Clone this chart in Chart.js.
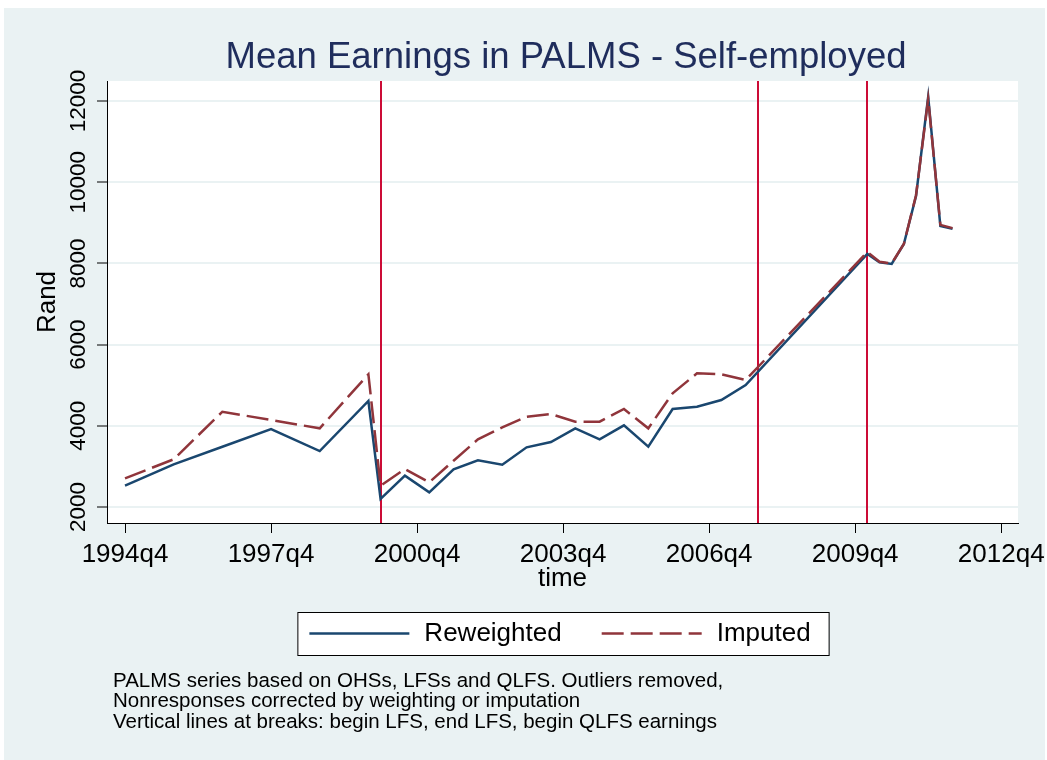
<!DOCTYPE html>
<html>
<head>
<meta charset="utf-8">
<script src="https://cdn.jsdelivr.net/npm/chart.js@4/dist/chart.umd.min.js"></script>
<style>
  body { margin: 0; background: #fff; }
  #wrap { width: 1047px; height: 760px; }
</style>
</head>
<body>
<div id="wrap"><canvas id="palmsChart"></canvas></div>
<script>
// survey quarters (OHS yearly, LFS twice a year, QLFS quarterly)
const quarters = ["1994q4", "1995q4", "1996q4", "1997q4", "1998q4", "1999q4",
  "2000q1", "2000q3", "2001q1", "2001q3", "2002q1", "2002q3", "2003q1", "2003q3",
  "2004q1", "2004q3", "2005q1", "2005q3", "2006q1", "2006q3", "2007q1", "2007q3",
  "2010q1", "2010q2", "2010q3", "2010q4", "2011q1", "2011q2", "2011q3", "2011q4"];
const reweighted = [2525, 3050, 3485, 3921, 3379, 4611,
  2200, 2771, 2362, 2929, 3150, 3042, 3470, 3601,
  3938, 3667, 4012, 3485, 4414, 4470, 4635, 5005,
  8232, 8027, 7985, 8478, 9660, 12100, 8921, 8855];
const imputed = [2707, 3175, 4347, 4143, 3938, 5268,
  2525, 2936, 2608, 3140, 3667, 3963, 4224, 4290,
  4101, 4101, 4414, 3938, 4800, 5293, 5268, 5128,
  8280, 8040, 8000, 8478, 9680, 12050, 8950, 8870];
const breaks = ["2000q1", "2007q4", "2010q1"];
const xTickLabels = ["1994q4", "1997q4", "2000q4", "2003q4", "2006q4", "2009q4", "2012q4"];
const yTicks = [2000, 4000, 6000, 8000, 10000, 12000];
const notes = [
  "PALMS series based on OHSs, LFSs and QLFS. Outliers removed,",
  "Nonresponses corrected by weighting or imputation",
  "Vertical lines at breaks: begin LFS, end LFS, begin QLFS earnings"
];

const FONT = "'Liberation Sans', Arial, sans-serif";
const startQ = 1994 * 4 + 3;
function qIndex(s) {
  const parts = s.split("q");
  return Number(parts[0]) * 4 + Number(parts[1]) - 1 - startQ;
}
function qLabel(t) {
  const n = startQ + Math.round(t);
  return Math.floor(n / 4) + "q" + (n % 4 + 1);
}
function points(vals) {
  return quarters.map((q, i) => ({ x: qIndex(q), y: vals[i] }));
}

const stataLook = {
  id: "stataLook",
  beforeDraw(chart) {
    const { ctx, chartArea: a } = chart;
    ctx.save();
    ctx.fillStyle = "#ffffff";
    ctx.fillRect(0, 0, chart.width, chart.height);
    ctx.fillStyle = "#eaf2f3";
    ctx.fillRect(4, 8, chart.width - 6, chart.height - 8);
    ctx.fillStyle = "#ffffff";
    ctx.fillRect(a.left, a.top, a.right - a.left, a.bottom - a.top);
    ctx.restore();
  },
  beforeDatasetsDraw(chart) {
    const { ctx, chartArea: a, scales: { x } } = chart;
    ctx.save();
    ctx.strokeStyle = "#cc0c36";
    ctx.lineWidth = 2;
    breaks.forEach(b => {
      const px = Math.round(x.getPixelForValue(qIndex(b)));
      ctx.beginPath();
      ctx.moveTo(px, a.top);
      ctx.lineTo(px, a.bottom);
      ctx.stroke();
    });
    ctx.restore();
  },
  afterDraw(chart) {
    const { ctx } = chart;
    ctx.save();
    // title
    ctx.fillStyle = "#1f2d5c";
    ctx.font = "36.5px " + FONT;
    ctx.textAlign = "center";
    ctx.textBaseline = "alphabetic";
    ctx.fillText("Mean Earnings in PALMS - Self-employed", 566, 68);

    // legend
    const lineLen = 100, gap = 15, itemGap = 40;
    ctx.font = "26px " + FONT;
    const items = chart.data.datasets.map(ds => ({
      label: ds.label, color: ds.borderColor, dash: ds.borderDash || [],
      w: ctx.measureText(ds.label).width
    }));
    const total = items.reduce((s, it) => s + lineLen + gap + it.w, 0) + itemGap * (items.length - 1);
    let lx = 560 - total / 2;
    ctx.fillStyle = "#ffffff";
    ctx.strokeStyle = "#000000";
    ctx.lineWidth = 1;
    ctx.fillRect(lx - 12, 612, total + 30, 43);
    ctx.strokeRect(lx - 12 + 0.5, 612.5, total + 30, 43);
    const ly = 633.5;
    items.forEach(it => {
      ctx.strokeStyle = it.color;
      ctx.lineWidth = 2.5;
      ctx.setLineDash(it.dash);
      ctx.beginPath();
      ctx.moveTo(lx, ly);
      ctx.lineTo(lx + lineLen, ly);
      ctx.stroke();
      ctx.setLineDash([]);
      ctx.fillStyle = "#000000";
      ctx.textAlign = "left";
      ctx.textBaseline = "middle";
      ctx.fillText(it.label, lx + lineLen + gap, ly);
      lx += lineLen + gap + it.w + itemGap;
    });

    // notes
    ctx.font = "20.5px " + FONT;
    ctx.fillStyle = "#000000";
    ctx.textAlign = "left";
    ctx.textBaseline = "middle";
    notes.forEach((n, i) => ctx.fillText(n, 113, 681 + i * 20.5));
    ctx.restore();
  }
};

const ctx = document.getElementById("palmsChart").getContext("2d");
const palmsChart = new Chart(ctx, {
  type: "line",
  data: {
    datasets: [
      {
        label: "Reweighted",
        data: points(reweighted),
        borderColor: "#1a476f",
        borderWidth: 2.5,
        pointRadius: 0,
        tension: 0,
        order: 1,
      },
      {
        label: "Imputed",
        data: points(imputed),
        borderColor: "#90353b",
        borderWidth: 2.5,
        borderDash: [22, 7],
        pointRadius: 0,
        tension: 0,
        order: 0,
      },
    ],
  },
  options: {
    responsive: true,
    maintainAspectRatio: false,
    animation: false,
    devicePixelRatio: 1,
    layout: { padding: { top: 81, right: 29, bottom: 162, left: 0 } },
    plugins: {
      legend: { display: false },
      tooltip: { enabled: false },
    },
    scales: {
      x: {
        type: "linear",
        min: -1.48,
        max: 73.38,
        afterBuildTicks: s => { s.ticks = xTickLabels.map(l => ({ value: qIndex(l) })); },
        afterFit: s => { s.height = 75; s.paddingLeft = 0; s.paddingRight = 0; },
        border: { color: "#000000", width: 1 },
        grid: { drawOnChartArea: false, drawTicks: true, tickLength: 10, tickColor: "#000000" },
        ticks: {
          autoSkip: false,
          maxRotation: 0,
          padding: 6,
          color: "#000000",
          font: { family: FONT, size: 26 },
          callback: v => qLabel(v),
        },
        title: {
          display: true,
          text: "time",
          color: "#000000",
          font: { family: FONT, size: 26 },
          padding: { top: 0, bottom: 4 },
        },
      },
      y: {
        min: 1606,
        max: 12493,
        afterBuildTicks: s => { s.ticks = yTicks.map(v => ({ value: v })); },
        afterFit: s => { s.width = 107; s.paddingTop = 0; s.paddingBottom = 0; },
        border: { color: "#000000", width: 1 },
        grid: { color: "#eaf2f3", lineWidth: 2, tickLength: 10, tickColor: "#000000", tickWidth: 1 },
        ticks: {
          minRotation: 90,
          maxRotation: 90,
          crossAlign: "center",
          padding: -13,
          color: "#000000",
          font: { family: FONT, size: 22.5 },
          callback: v => String(v),
        },
        title: {
          display: true,
          text: "Rand",
          color: "#000000",
          font: { family: FONT, size: 26 },
          padding: { top: 32, bottom: 0 },
        },
      },
    },
  },
  plugins: [stataLook],
});
</script>
</body>
</html>
